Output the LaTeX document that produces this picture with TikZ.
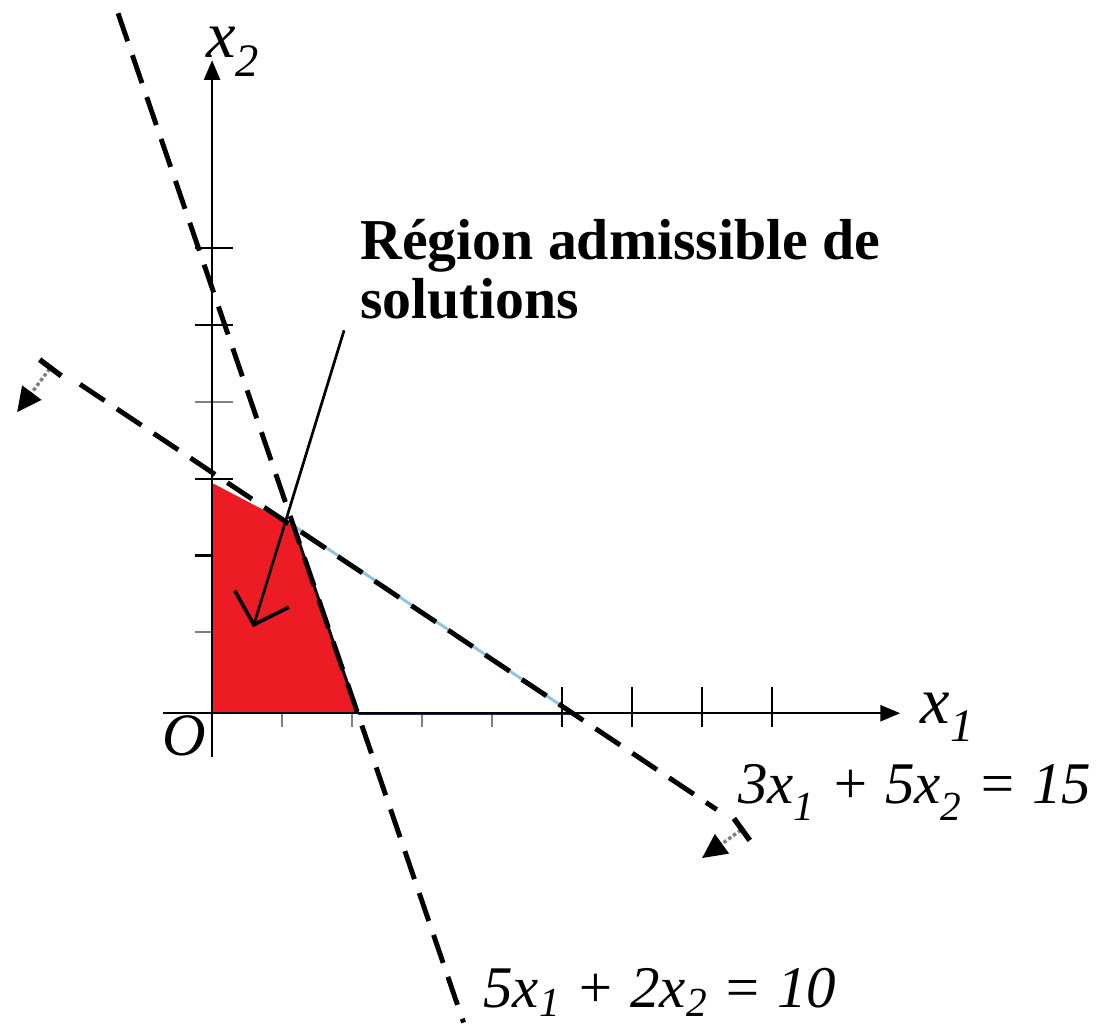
\documentclass[tikz,border=0pt]{standalone}
\usepackage{fontspec}
\setmainfont{Liberation Serif}
\usepackage{xcolor}
\definecolor{regred}{HTML}{ED1C24}
\definecolor{edgeblue}{HTML}{8FC3E0}
\definecolor{axisnavy}{HTML}{1F2A44}
\usepackage{tikz}
\usetikzlibrary{arrows.meta}
\newcommand{\ix}[1]{\raisebox{-0.14em}{\textsubscript{#1}}}

\begin{document}
\begin{tikzpicture}[
  axis/.style={line width=1pt, -{Triangle[length=8pt, width=6.5pt]}},
  tickmark/.style={line width=0.9pt},
  cline/.style={line width=2pt, dash pattern=on 12pt off 6pt},
  leader/.style={line width=1.1pt, -{Straight Barb[length=11pt, width=23pt, line width=1.5pt]}},
  side/.style={line width=1.4pt, gray, densely dotted,
    {Bar[width=11pt, line width=2.2pt, color=black]}-{Triangle[length=10pt, width=9.5pt, color=black]}},
  eq/.style={font=\fontsize{24}{24}\selectfont\itshape, inner sep=0pt, anchor=base west},
  axlbl/.style={font=\fontsize{27}{27}\selectfont\itshape, inner sep=0pt, anchor=base west},
  note/.style={font=\fontsize{23.5}{24}\selectfont\bfseries, align=left, inner sep=0pt, anchor=north west}
]
\useasboundingbox (-3.03,-4.59) rectangle (12.7,10.19);

% Points
\coordinate (O) at (0,0);
\coordinate (xstart) at (-0.7,0);
\coordinate (xend) at (9.83,0);
\coordinate (ystart) at (0,-0.62);
\coordinate (yend) at (0,9.33);
\coordinate (top) at (0,3.29);
\coordinate (P) at (1.163,2.68);
\coordinate (Ax) at (2.08,0);
\coordinate (Bx) at (5.15,0);
\coordinate (a1) at (-1.343,10.0);
\coordinate (a2) at (3.593,-4.42);
\coordinate (b1) at (-1.886,4.70);
\coordinate (b2) at (7.21,-1.376);

% Ticks
\foreach \k/\c in {1/gray,2/black,3/black,4/gray,5/black,6/black}
  \draw[tickmark, \c] (-0.24,0.06+1.097*\k) -- (0.3,0.06+1.097*\k);
\foreach \k in {1,...,4}
  \draw[tickmark, gray] (\k,0) -- (\k,-0.2);
\foreach \k in {5,...,8}
  \draw[tickmark] (\k,0.37) -- (\k,-0.2);

% Feasible region
\fill[regred] (O) -- (top) -- (P) -- (Ax) -- cycle;
\draw[edgeblue, line width=1.2pt] (P) -- (Bx);
\draw[axisnavy, line width=1.2pt] (Ax) -- (Bx);

% Axes
\draw[axis] (xstart) -- (xend);
\draw[axis] (ystart) -- (yend);
\draw[line width=1.2pt] (P) -- (Ax);

% Constraints
\draw[cline] (a1) -- (a2);
\draw[cline] (b1) -- (b2);

% Half-plane arrows
\coordinate (s1) at (-2.286,4.967);
\coordinate (t1) at (-2.786,4.3);
\coordinate (s2) at (7.6,-1.637);
\coordinate (t2) at (7.0,-2.07);
\draw[side] (s1) -- (t1);
\draw[side] (s2) -- (t2);

% Labels
\node[axlbl] (lx1) at (10.12,-0.14) {x\ix{1}};
\node[axlbl] (lx2) at (-0.09,9.37) {x\ix{2}};
\node[eq, font=\fontsize{24.5}{24}\selectfont\itshape] (lO) at (-0.72,-0.6) {O};
\node[eq] (eqB) at (7.51,-1.29) {3x\ix{1} + 5x\ix{2} = 15};
\node[eq] (eqA) at (3.87,-4.2) {5x\textsubscript{1} + 2x\textsubscript{2} = 10};
\node[note] (reg) at (2.11,7.07) {Région admissible de\\solutions};

% Leader into the region
\coordinate (lead) at (1.886,5.471);
\coordinate (inreg) at (0.586,1.229);
\draw[leader] (lead) -- (inreg);

\end{tikzpicture}
\end{document}
